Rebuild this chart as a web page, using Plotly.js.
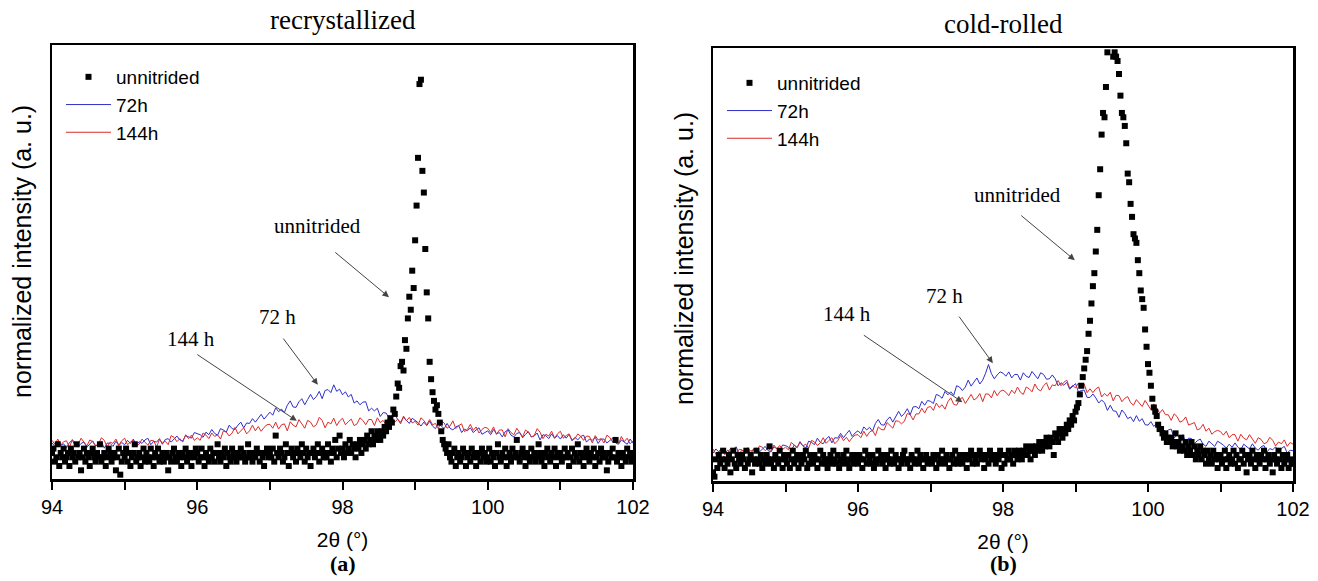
<!DOCTYPE html>
<html>
<head>
<meta charset="utf-8">
<script src="https://cdn.plot.ly/plotly-3.0.1.min.js"></script>
<style>html,body{margin:0;padding:0;background:#fff;}#chart{width:1318px;height:581px;}</style>
</head>
<body>
<div id="chart"></div>
<script>
// ---------- DATA ----------
const twoThetaStart = 94;      // first 2θ value of every scan (°)
const lineStep = 0.04;         // 2θ step of the nitrided scans (°)
const dotStep = 0.02;          // 2θ step of the unnitrided scans (°)
const tickValues = [94, 96, 98, 100, 102];
const tickLabels = ['94', '96', '98', '100', '102'];
const seriesNames = ['unnitrided', '72h', '144h'];
const panelTitles = ['recrystallized', 'cold-rolled'];
const panelLetters = ['(a)', '(b)'];
const xTitle = '2θ (°)';
const yTitle = 'normalized intensity (a. u.)';

// (a) recrystallized — normalized intensity
const leftUnnitrided = [
 6,7,4,5,8,3,6,5,7,4, 5,6,3,7,5,6,4,8,5,6, 2,5,7,4,6,5,3,6,7,5, 4,6,5,8,4,5,6,3,5,7, 6,4,5,6,2,5,7,1,4,6,
 5,7,4,6,3,5,6,8,4,5, 6,3,5,7,4,6,5,4,7,5, 3,6,5,7,4,5,6,4,5,6, 2,5,4,6,7,5,4,6,5,3, 6,5,7,4,6,5,3,6,5,7,
 6,4,5,7,5,3,6,5,4,7, 5,6,4,6,8,5,4,6,5,7, 3,6,5,4,7,6,5,4,6,5, 7,5,6,4,5,8,6,5,4,6, 5,7,6,4,6,5,3,6,7,5,
 6,5,7,4,10,6,5,7,6,4, 5,8,6,3,6,7,5,6,4,7, 6,5,8,6,4,7,5,6,3,6, 7,5,6,8,4,6,7,5,6,5, 8,6,4,7,6,9,5,7,10,6,
 7,5,8,6,7,9,6,8,7,5, 8,7,9,6,8,9,7,10,8,9, 11,8,10,9,11,10,9,11,10,12, 11,13,12,14,13,16,15,19,22,21, 26,27,25,32,30,37,42,39,48,44,
 55,63,74,91,92,71,66,53,43,37, 27,23,20,18,16,17,15,13,11,9, 8,7,6,8,5,4,6,7,3,5, 6,4,5,7,6,3,5,6,4,7, 5,6,3,5,6,4,7,5,6,4,
 5,7,4,6,5,3,6,8,5,4, 6,5,7,3,5,6,4,7,5,6, 9,5,4,6,7,5,3,6,5,4, 7,5,6,4,5,8,6,4,5,3, 6,7,5,4,6,5,7,3,6,5,
 6,4,5,7,5,6,3,5,7,4, 6,5,8,4,6,5,3,6,7,5, 4,6,5,7,3,5,6,4,7,5, 6,5,2,4,6,5,7,5,9,4, 6,5,3,6,5,4,7,5,6,4,
 5
];
const left72h = [
 8.3,7.5,8.7,7.8,8.1,7.2,8.4,8.9,7.7,7.4,8.2,8.5,7.3,8.1,8.8,7.6,7.9,8.6,7.1,8.3,8.2,7.5,8.7,7.7,8.4,
 7.9,8.9,8.2,9.2,7.8,8.6,8.2,9.0,9.4,7.9,8.7,8.5,9.3,8.0,9.1,9.3,8.5,9.3,9.9,9.0,8.8,10.0,9.7,9.4,10.7,
 10.5,10.2,9.6,10.8,10.2,11.4,10.5,10.1,11.6,11.3,10.8,12.4,11.6,11.4,12.4,13.1,11.8,12.9,12.8,13.9,13.1,14.1,14.9,13.8,14.7,
 15.4,14.7,16.4,15.5,16.1,15.3,17.0,18.0,16.6,16.5,17.8,18.5,17.1,18.3,19.5,18.3,19.0,20.2,18.5,20.4,20.6,19.9,21.7,20.2,20.7,
 19.4,20.1,18.9,19.5,17.5,18.0,17.1,17.7,17.8,15.7,16.3,15.7,16.3,14.4,15.3,15.2,14.1,14.6,15.0,13.7,13.1,14.2,13.5,12.8,14.0,
 13.5,13.0,12.2,13.1,12.3,13.3,12.2,11.6,12.8,12.3,11.6,12.8,11.7,11.3,12.0,12.3,10.7,11.5,11.1,11.8,10.7,11.3,11.8,10.3,10.8,
 11.1,10.2,11.4,10.4,10.7,9.7,10.9,11.3,10.1,9.7,10.5,10.7,9.5,10.3,10.9,9.7,9.9,10.6,9.0,10.2,10.0,9.3,10.4,9.4,10.0,
 9.2,10.2,9.4,10.3,8.8,9.6,9.0,9.8,10.1,8.5,9.2,8.9,9.6,8.2,9.2,9.2,8.3,8.9,9.4,8.3,8.0,9.0,8.6,8.0,9.2,
 8.3
];
const left144h = [
 8.9,8.0,9.2,7.8,8.6,8.8,7.3,9.1,8.3,7.9,9.4,8.5,7.6,9.0,8.6,7.7,8.0,9.5,8.9,7.4,8.5,8.2,9.2,7.8,8.8,
 9.4,7.9,8.5,9.0,7.7,8.0,9.2,8.6,7.8,8.9,8.8,7.4,9.1,8.3,8.7,7.9,10.0,9.6,8.6,9.3,8.5,10.2,9.3,10.1,8.9,
 9.5,8.9,10.6,10.1,9.3,10.6,9.8,10.2,9.2,11.1,10.8,9.9,10.6,11.9,10.4,11.2,11.8,10.4,11.1,12.4,11.1,12.1,11.0,11.9,12.5,
 12.6,11.7,13.1,11.5,12.5,12.7,11.1,13.2,12.4,12.0,13.7,12.8,11.7,13.5,13.1,12.0,12.5,14.2,13.5,11.8,13.1,12.7,14.0,12.3,13.4,
 14.0,12.5,13.2,13.8,12.3,12.7,14.1,13.5,12.5,13.7,13.7,12.3,14.1,13.0,13.5,12.5,14.6,14.1,13.1,13.8,12.7,14.5,13.4,14.2,12.9,
 13.3,12.4,14.1,13.5,12.5,13.7,12.5,12.8,11.6,13.4,12.9,11.7,12.2,13.4,11.6,12.3,12.7,10.9,11.4,12.6,11.2,12.0,10.6,11.4,11.9,
 11.7,10.7,12.0,10.3,11.3,11.3,9.7,11.6,10.7,10.2,11.7,10.7,9.7,11.3,10.8,9.7,10.0,11.6,10.8,9.3,10.3,9.9,11.0,9.4,10.4,
 11.0,9.4,10.0,10.4,9.0,9.3,10.4,9.8,8.9,9.9,9.8,8.3,10.0,9.0,9.3,8.3,10.1,9.6,8.5,9.1,8.1,9.8,8.6,9.4,8.1,
 8.8
];

// (b) cold-rolled — normalized intensity
const rightUnnitrided = [
 2,1,5,3,6,4,5,7,3,5, 4,6,2,5,7,4,3,6,5,4, 6,5,3,7,4,5,6,2,5,4, 7,5,4,6,3,5,4,6,5,8, 4,5,3,6,5,4,7,5,3,6,
 5,4,6,3,5,7,4,5,6,3, 5,4,6,5,7,3,4,6,5,4, 6,5,3,5,7,4,6,5,4,3, 5,6,4,7,5,4,6,3,5,4, 6,5,7,4,3,5,6,4,5,6,
 4,6,5,3,5,7,4,6,5,4, 6,3,5,4,7,5,6,4,5,3, 6,5,4,7,5,4,6,5,3,5, 4,6,7,5,4,5,3,6,5,4, 5,7,4,6,5,3,5,6,4,5,
 5,4,6,5,3,6,4,5,7,5, 4,6,5,3,5,6,4,7,5,4, 6,5,4,6,5,3,6,5,7,4, 6,5,4,6,7,5,6,3,5,6, 4,7,5,6,5,4,6,5,7,3,
 6,4,6,5,7,5,6,4,7,6, 5,7,6,5,7,6,8,6,7,5, 8,7,6,8,7,9,8,7,9,8, 10,9,8,10,9,6,11,10,9,12, 11,10,12,11,13,12,14,13,15,14,
 16,17,18,20,22,24,26,28,30,34, 37,41,45,48,53,58,66,72,80,85, 84,91,99,102,103,101,98,99,98,97, 94,89,85,84,82,78,71,69,64,61, 57,56,55,51,48,44,42,40,35,31,
 27,25,22,19,17,16,15,13,12,12, 11,10,11,9,10,9,10,8,9,11, 8,9,7,10,8,7,9,6,8,7, 9,6,8,5,7,6,8,5,7,6, 4,7,5,6,4,7,5,6,3,5,
 6,4,5,7,3,5,6,4,5,7, 4,6,3,5,5,7,4,6,2,5, 6,4,7,5,3,6,5,4,6,5, 7,3,5,6,4,5,2,6,5,4, 7,5,3,6,4,5,6,3,5,4,
 4
];
const right72h = [
 6.4,7.4,6.7,7.6,6.3,7.1,6.6,7.4,7.9,6.3,7.1,6.8,7.7,6.3,7.4,7.6,6.7,7.4,8.0,7.0,6.7,7.9,7.5,7.1,8.3,
 8.2,7.8,7.1,8.3,7.7,9.1,8.1,7.6,9.2,8.9,8.4,9.9,8.9,8.6,9.7,10.3,8.8,10.0,9.9,11.0,10.0,10.9,11.7,10.3,11.1,
 11.6,10.9,12.5,11.8,12.4,11.5,13.3,14.2,13.0,12.9,14.1,14.8,13.6,14.9,16.1,14.9,15.6,16.7,15.3,17.1,17.2,16.7,18.4,17.5,18.6,
 18.4,17.9,20.0,19.7,19.1,20.7,19.9,20.6,19.8,22.0,21.7,20.9,21.7,23.3,21.9,23.0,23.8,22.4,23.3,24.9,26.9,24.8,23.6,24.5,25.2,
 24.9,24.2,25.2,23.8,24.6,24.6,23.3,25.0,24.2,23.9,25.3,24.5,23.6,25.0,24.6,23.5,23.6,24.5,23.6,22.0,22.7,22.1,22.8,21.2,21.9,
 22.5,20.6,20.9,21.0,19.3,19.3,20.1,19.2,18.0,18.7,18.1,16.3,17.5,16.2,16.1,14.7,16.4,15.6,14.4,14.8,13.7,15.1,13.8,14.4,13.0,
 12.9,13.7,12.6,13.3,11.4,12.0,11.2,11.8,12.0,9.9,10.6,10.0,10.7,8.9,9.9,9.8,8.6,9.3,9.7,8.5,8.0,9.2,8.6,8.0,9.2,
 8.8,8.3,7.6,8.5,7.8,8.8,7.8,7.2,8.5,8.0,7.4,8.6,7.6,7.1,7.9,8.2,6.7,7.5,7.2,7.9,6.9,7.5,8.0,6.5,7.1,
 7.0
];
const right144h = [
 7.4,6.2,6.8,7.2,6.1,6.5,7.5,7.0,6.4,7.3,7.2,6.2,7.6,6.9,7.2,6.5,8.1,7.8,7.0,7.6,6.8,8.3,7.4,8.2,7.3,
 7.8,7.2,8.9,8.4,7.7,8.9,8.1,8.5,7.6,9.4,9.0,8.2,8.8,10.0,8.7,9.4,10.0,8.6,9.3,10.5,9.3,10.1,9.1,10.0,10.6,
 10.7,10.0,11.5,10.3,11.3,11.7,10.5,12.5,11.9,11.8,13.5,12.9,12.2,13.9,13.8,13.2,13.8,15.6,15.3,14.1,15.5,15.5,16.8,15.7,17.0,
 17.2,16.3,18.0,17.0,17.6,16.6,18.3,19.2,17.7,17.5,18.8,19.3,17.9,19.0,20.0,18.7,19.2,20.2,18.3,20.1,20.1,19.2,20.9,19.7,20.7,
 21.0,20.5,19.7,21.0,20.2,21.7,20.5,20.0,21.7,21.3,20.6,22.4,21.2,20.8,22.0,22.7,21.0,22.2,22.0,23.2,22.0,22.8,23.3,21.4,22.1,
 21.5,22.6,21.5,22.4,20.4,21.3,20.4,21.3,21.7,19.4,20.2,19.6,20.5,18.5,19.8,19.7,18.3,19.1,19.5,18.1,17.5,18.8,18.0,17.2,18.6,
 17.5,16.5,17.8,16.9,15.7,16.5,15.3,15.3,14.0,15.5,14.9,13.6,13.9,14.8,12.9,13.3,13.5,11.8,12.1,13.1,11.5,12.2,10.8,11.4,11.7,
 11.4,10.6,11.5,10.0,10.7,10.7,9.2,10.8,9.9,9.5,10.7,9.7,8.7,10.0,9.6,8.6,8.9,10.1,9.4,8.1,9.0,8.6,9.5,8.0,8.9,
 8.5
];

// ---------- STYLE / LAYOUT ----------
const W = 1318, H = 581;
const BLUE = '#2f2fc8', RED = '#dd2a2a';
const SANS = '"Liberation Sans", Arial, sans-serif';
const SERIF = '"Liberation Serif", "Times New Roman", serif';

function panelTraces(xa, ya, legendId, dots, l72, l144) {
  return [
    {type:'scatter', mode:'lines', name:seriesNames[1], x0:twoThetaStart, dx:lineStep, y:l72,
     xaxis:xa, yaxis:ya, legend:legendId, legendrank:2, line:{color:BLUE, width:1}, hoverinfo:'skip'},
    {type:'scatter', mode:'lines', name:seriesNames[2], x0:twoThetaStart, dx:lineStep, y:l144,
     xaxis:xa, yaxis:ya, legend:legendId, legendrank:3, line:{color:RED, width:1}, hoverinfo:'skip'},
    {type:'scatter', mode:'markers', name:seriesNames[0], x0:twoThetaStart, dx:dotStep, y:dots,
     xaxis:xa, yaxis:ya, legend:legendId, legendrank:1,
     marker:{symbol:'square', size:6, color:'#000', line:{width:0}}, hoverinfo:'skip'}
  ];
}

const traces = [].concat(
  panelTraces('x', 'y', 'legend', leftUnnitrided, left72h, left144h),
  panelTraces('x2', 'y2', 'legend2', rightUnnitrided, right72h, right144h)
);

function xAxis(domain, anchor) {
  return {
    domain: domain, anchor: anchor, range: [94, 102],
    tickmode: 'array', tickvals: tickValues, ticktext: tickLabels,
    ticks: 'outside', ticklen: 8, tickwidth: 2, tickcolor: '#000',
    minor: {dtick: 1, ticks: 'outside', ticklen: 8, tickwidth: 2, tickcolor: '#000', showgrid: false},
    showline: true, linewidth: 2.5, linecolor: '#000', mirror: true,
    showgrid: false, zeroline: false, automargin: false,
    tickfont: {family: SANS, size: 20, color: '#000'},
    title: {text: xTitle, font: {family: SANS, size: 21, color: '#000'}, standoff: 16}
  };
}
function yAxis(domain, anchor) {
  return {
    domain: domain, anchor: anchor, range: [0, 100],
    ticks: '', showticklabels: false,
    showline: true, linewidth: 2.5, linecolor: '#000', mirror: true,
    showgrid: false, zeroline: false, automargin: false
  };
}

const arrowStyle = {text:'', showarrow:true, arrowhead:2, arrowsize:1.3, arrowwidth:1, arrowcolor:'#444'};
function labelAnn(xr, yr, x, y, text) {
  return {xref:xr, yref:yr, x:x, y:y, text:text, showarrow:false,
          font:{family:SERIF, size:21, color:'#000'}, xanchor:'center', yanchor:'middle'};
}
function arrowAnn(xr, yr, hx, hy, tx, ty) {
  return Object.assign({xref:xr, yref:yr, axref:xr, ayref:yr, x:hx, y:hy, ax:tx, ay:ty}, arrowStyle);
}
function yTitleAnn(px, py) {
  return {xref:'paper', yref:'paper', x:px/W, y:1-py/H, text:yTitle, textangle:-90, showarrow:false,
          font:{family:SANS, size:25, color:'#000'}, xanchor:'center', yanchor:'middle'};
}

const annotations = [
  // panel titles
  {xref:'x domain', yref:'paper', x:0.5, y:1-20/H, text:panelTitles[0], showarrow:false,
   font:{family:SERIF, size:27, color:'#000'}, xanchor:'center', yanchor:'middle'},
  {xref:'x2 domain', yref:'paper', x:0.5, y:1-24/H, text:panelTitles[1], showarrow:false,
   font:{family:SERIF, size:27, color:'#000'}, xanchor:'center', yanchor:'middle'},
  // panel letters
  {xref:'x domain', yref:'paper', x:0.5, y:1-563/H, text:'<b>'+panelLetters[0]+'</b>', showarrow:false,
   font:{family:SERIF, size:22, color:'#000'}, xanchor:'center', yanchor:'middle'},
  {xref:'x2 domain', yref:'paper', x:0.5, y:1-563/H, text:'<b>'+panelLetters[1]+'</b>', showarrow:false,
   font:{family:SERIF, size:22, color:'#000'}, xanchor:'center', yanchor:'middle'},
  // y-axis titles
  yTitleAnn(22, 252),
  yTitleAnn(684, 259),
  // left panel callouts
  labelAnn('x','y', 97.66, 58.3, 'unnitrided'),
  arrowAnn('x','y', 98.64, 41.9, 97.88, 52.5),
  labelAnn('x','y', 97.11, 37.3, '72 h'),
  arrowAnn('x','y', 97.66, 21.7, 97.17, 32.7),
  labelAnn('x','y', 95.91, 32.3, '144 h'),
  arrowAnn('x','y', 97.37, 13.4, 95.98, 28.9),
  // right panel callouts
  labelAnn('x2','y2', 98.20, 66.1, 'unnitrided'),
  arrowAnn('x2','y2', 98.99, 51.0, 98.23, 61.6),
  labelAnn('x2','y2', 97.19, 42.8, '72 h'),
  arrowAnn('x2','y2', 97.86, 27.2, 97.38, 38.3),
  labelAnn('x2','y2', 95.85, 38.5, '144 h'),
  arrowAnn('x2','y2', 97.44, 18.2, 96.06, 33.9)
];

const legendStyle = {xanchor:'left', yanchor:'top', bgcolor:'rgba(0,0,0,0)', borderwidth:0,
  font:{family:SANS, size:19, color:'#000'}, itemwidth:45, tracegroupgap:0, traceorder:'normal'};

const layout = {
  width: W, height: H,
  margin: {l:0, r:0, t:0, b:0},
  paper_bgcolor: '#fff', plot_bgcolor: '#fff',
  showlegend: true,
  xaxis: xAxis([52/W, 633/W], 'y'),
  yaxis: yAxis([1-479/H, 1-45/H], 'x'),
  xaxis2: xAxis([713/W, 1293/W], 'y2'),
  yaxis2: yAxis([1-481/H, 1-48/H], 'x2'),
  legend: Object.assign({x: 61/W, y: 1-58/H}, legendStyle),
  legend2: Object.assign({x: 722/W, y: 1-64/H}, legendStyle),
  annotations: annotations
};

Plotly.newPlot('chart', traces, layout, {staticPlot: true, displayModeBar: false});
</script>
</body>
</html>
